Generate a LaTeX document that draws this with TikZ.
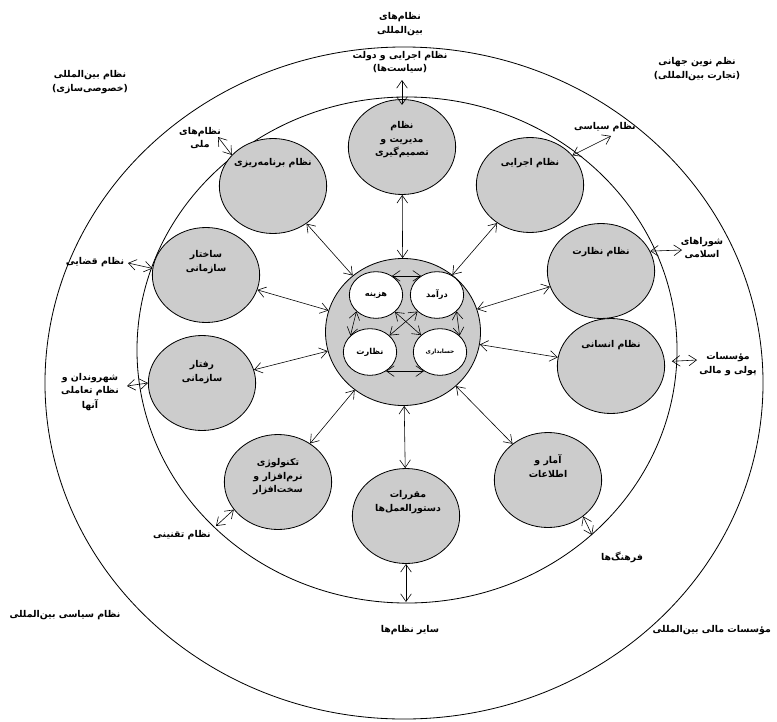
\documentclass[tikz,border=0pt]{standalone}
\usepackage{fontspec}
\usetikzlibrary{shapes.geometric,arrows.meta}
\newfontfamily\farsifont[Script=Arabic,BoldFont={DejaVu Sans Bold}]{DejaVu Sans}
\TeXXeTstate=1
\newcommand{\fatxt}[1]{{\farsifont\beginR #1\endR}}
\definecolor{satgray}{RGB}{204,204,204}

\begin{document}
\begin{tikzpicture}[x=0.03cm,y=-0.03cm,
           sat_style/.style={ellipse,draw=black,line width=0.7pt,fill=satgray,minimum width=3.22cm,minimum height=2.85cm,inner sep=0pt},
           core_style/.style={ellipse,draw=black,line width=0.7pt,fill=satgray,minimum width=4.65cm,minimum height=4.41cm},
           inner_style/.style={ellipse,draw=black,line width=0.7pt,fill=white,minimum width=1.6cm,minimum height=1.4cm,inner sep=0pt,font=\scriptsize\bfseries},
           ring_style/.style={draw=black,line width=0.7pt},
           text_style/.style={align=center,font=\footnotesize\bfseries},
           label_style/.style={align=center,font=\footnotesize\bfseries},
           edge_style/.style={draw=black,line width=0.5pt,<->,>={Straight Barb[length=2.3mm,width=3.2mm]}}]
            \useasboundingbox (0,0) rectangle (777,722);
            % the two rings
            \draw[ring_style] (404,383) ellipse [x radius=10.77cm, y radius=10.08cm];
            \draw[ring_style] (407,350) ellipse [x radius=8.1cm, y radius=7.59cm];
            % satellites
            \node[sat_style] (mgmt) at (402, 147) {};
            \node[sat_style] (plan) at (273, 186) {};
            \node[sat_style] (exec) at (530, 185) {};
            \node[sat_style] (struct) at (206, 275) {};
            \node[sat_style] (behav) at (202, 383) {};
            \node[sat_style] (superv) at (601, 271) {};
            \node[sat_style] (human) at (611, 366) {};
            \node[sat_style] (stats) at (548, 480) {};
            \node[sat_style] (regs) at (406, 516) {};
            \node[sat_style] (tech) at (278, 482) {};
            \node[text_style] (mgmt_txt) at (402, 140) {\fatxt{نظام}\\[2pt]\fatxt{مدیریت و}\\[2pt]\fatxt{تصمیم‌گیری}};
            \node[text_style] (plan_txt) at (273, 163) {\fatxt{نظام برنامه‌ریزی}};
            \node[text_style] (exec_txt) at (530, 163) {\fatxt{نظام اجرایی}};
            \node[text_style] (struct_txt) at (206, 262) {\fatxt{ساختار}\\[2pt]\fatxt{سازمانی}};
            \node[text_style] (behav_txt) at (202, 372) {\fatxt{رفتار}\\[2pt]\fatxt{سازمانی}};
            \node[text_style] (superv_txt) at (601, 252) {\fatxt{نظام نظارت}};
            \node[text_style] (human_txt) at (611, 345) {\fatxt{نظام انسانی}};
            \node[text_style] (stats_txt) at (548, 466) {\fatxt{آمار و}\\[2pt]\fatxt{اطلاعات}};
            \node[text_style] (regs_txt) at (408, 502) {\fatxt{مقررات}\\[2pt]\fatxt{دستورالعمل‌ها}};
            \node[text_style] (tech_txt) at (278, 477) {\fatxt{تکنولوژی}\\[2pt]\fatxt{نرم‌افزار و}\\[2pt]\fatxt{سخت‌افزار}};
            % core and its four parts
            \node[core_style] (core) at (403, 332) {};
            \node[inner_style] (cost) at (376, 295) {\fatxt{هزینه}};
            \node[inner_style] (income) at (437, 295) {\fatxt{درآمد}};
            \node[inner_style] (ovs) at (370, 352) {\fatxt{نظارت}};
            \node[inner_style,font=\tiny\bfseries] (acct) at (440, 352) {\fatxt{حسابداری}};
            \draw[edge_style]  (cost.50) -- (income.130);
            \draw[edge_style]  (cost.220) -- (ovs.140);
            \draw[edge_style]  (income.320) -- (acct.40);
            \draw[edge_style]  (ovs.310) -- (acct.230);
            \draw[edge_style]  (cost) -- (acct);
            \draw[edge_style]  (income) -- (ovs);
            % core to satellites
            \draw[edge_style]  (core) -- (mgmt);
            \draw[edge_style]  (core) -- (plan);
            \draw[edge_style]  (core) -- (exec);
            \draw[edge_style]  (core) -- (struct);
            \draw[edge_style]  (core) -- (behav);
            \draw[edge_style]  (core) -- (superv);
            \draw[edge_style]  (core) -- (human);
            \draw[edge_style]  (core) -- (stats);
            \draw[edge_style]  (core) -- (regs);
            \draw[edge_style]  (core) -- (tech);
            % outer labels
            \node[label_style] (intl) at (400, 24) {\fatxt{نظام‌های}\\[2pt]\fatxt{بین‌المللی}};
            \node[label_style] (govt) at (400, 62) {\fatxt{نظام اجرایی و دولت}\\[2pt]\fatxt{(سیاست‌ها)}};
            \node[label_style] (privat) at (90, 82) {\fatxt{نظام بین‌المللی}\\[2pt]\fatxt{(خصوصی‌سازی)}};
            \node[label_style] (neworder) at (697, 69) {\fatxt{نظم نوین جهانی}\\[2pt]\fatxt{(تجارت بین‌المللی)}};
            \node[label_style] (natl) at (200, 138) {\fatxt{نظام‌های}\\[2pt]\fatxt{ملی}};
            \node[label_style] (polit) at (605, 127) {\fatxt{نظام سیاسی}};
            \node[label_style] (council) at (702, 248) {\fatxt{شوراهای}\\[2pt]\fatxt{اسلامی}};
            \node[label_style] (judic) at (95, 262) {\fatxt{نظام قضایی}};
            \node[label_style] (citizen) at (90, 392) {\fatxt{شهروندان و}\\[2pt]\fatxt{نظام تعاملی}\\[2pt]\fatxt{آنها}};
            \node[label_style] (money) at (728, 364) {\fatxt{مؤسسات}\\[2pt]\fatxt{پولی و مالی}};
            \node[label_style] (legis) at (182, 535) {\fatxt{نظام تقنینی}};
            \node[label_style] (culture) at (622, 557) {\fatxt{فرهنگ‌ها}};
            \node[label_style] (others) at (410, 630) {\fatxt{سایر نظام‌ها}};
            \node[label_style] (intlpol) at (65, 615) {\fatxt{نظام سیاسی بین‌المللی}};
            \node[label_style,anchor=east] (intlfin) at (775, 630) {\fatxt{مؤسسات مالی بین‌المللی}};
            % satellites out to the wider world
            \coordinate (govt_tip) at (402, 80);
            \coordinate (natl_tip) at (218, 137);
            \coordinate (polit_tip) at (611, 136);
            \coordinate (council_tip) at (682, 250);
            \coordinate (judic_tip) at (128, 263);
            \coordinate (citizen_tip) at (127, 386);
            \coordinate (money_tip) at (697, 360);
            \coordinate (legis_tip) at (216, 526);
            \coordinate (culture_tip) at (592, 535);
            \coordinate (others_tip) at (406, 602);
            \draw[edge_style]  ([yshift=-5pt]mgmt.north) -- (govt_tip);
            \draw[edge_style]  (plan.143) -- (natl_tip);
            \draw[edge_style]  (exec.35) -- (polit_tip);
            \draw[edge_style]  (superv.22) -- (council_tip);
            \draw[edge_style]  (struct.173) -- (judic_tip);
            \draw[edge_style]  (behav.180) -- (citizen_tip);
            \draw[edge_style]  ([xshift=6pt]human.5) -- (money_tip);
            \draw[edge_style]  (tech.212) -- (legis_tip);
            \draw[edge_style]  (stats.314) -- (culture_tip);
            \draw[edge_style]  (regs.south) -- (others_tip);
        \end{tikzpicture}
\end{document}
